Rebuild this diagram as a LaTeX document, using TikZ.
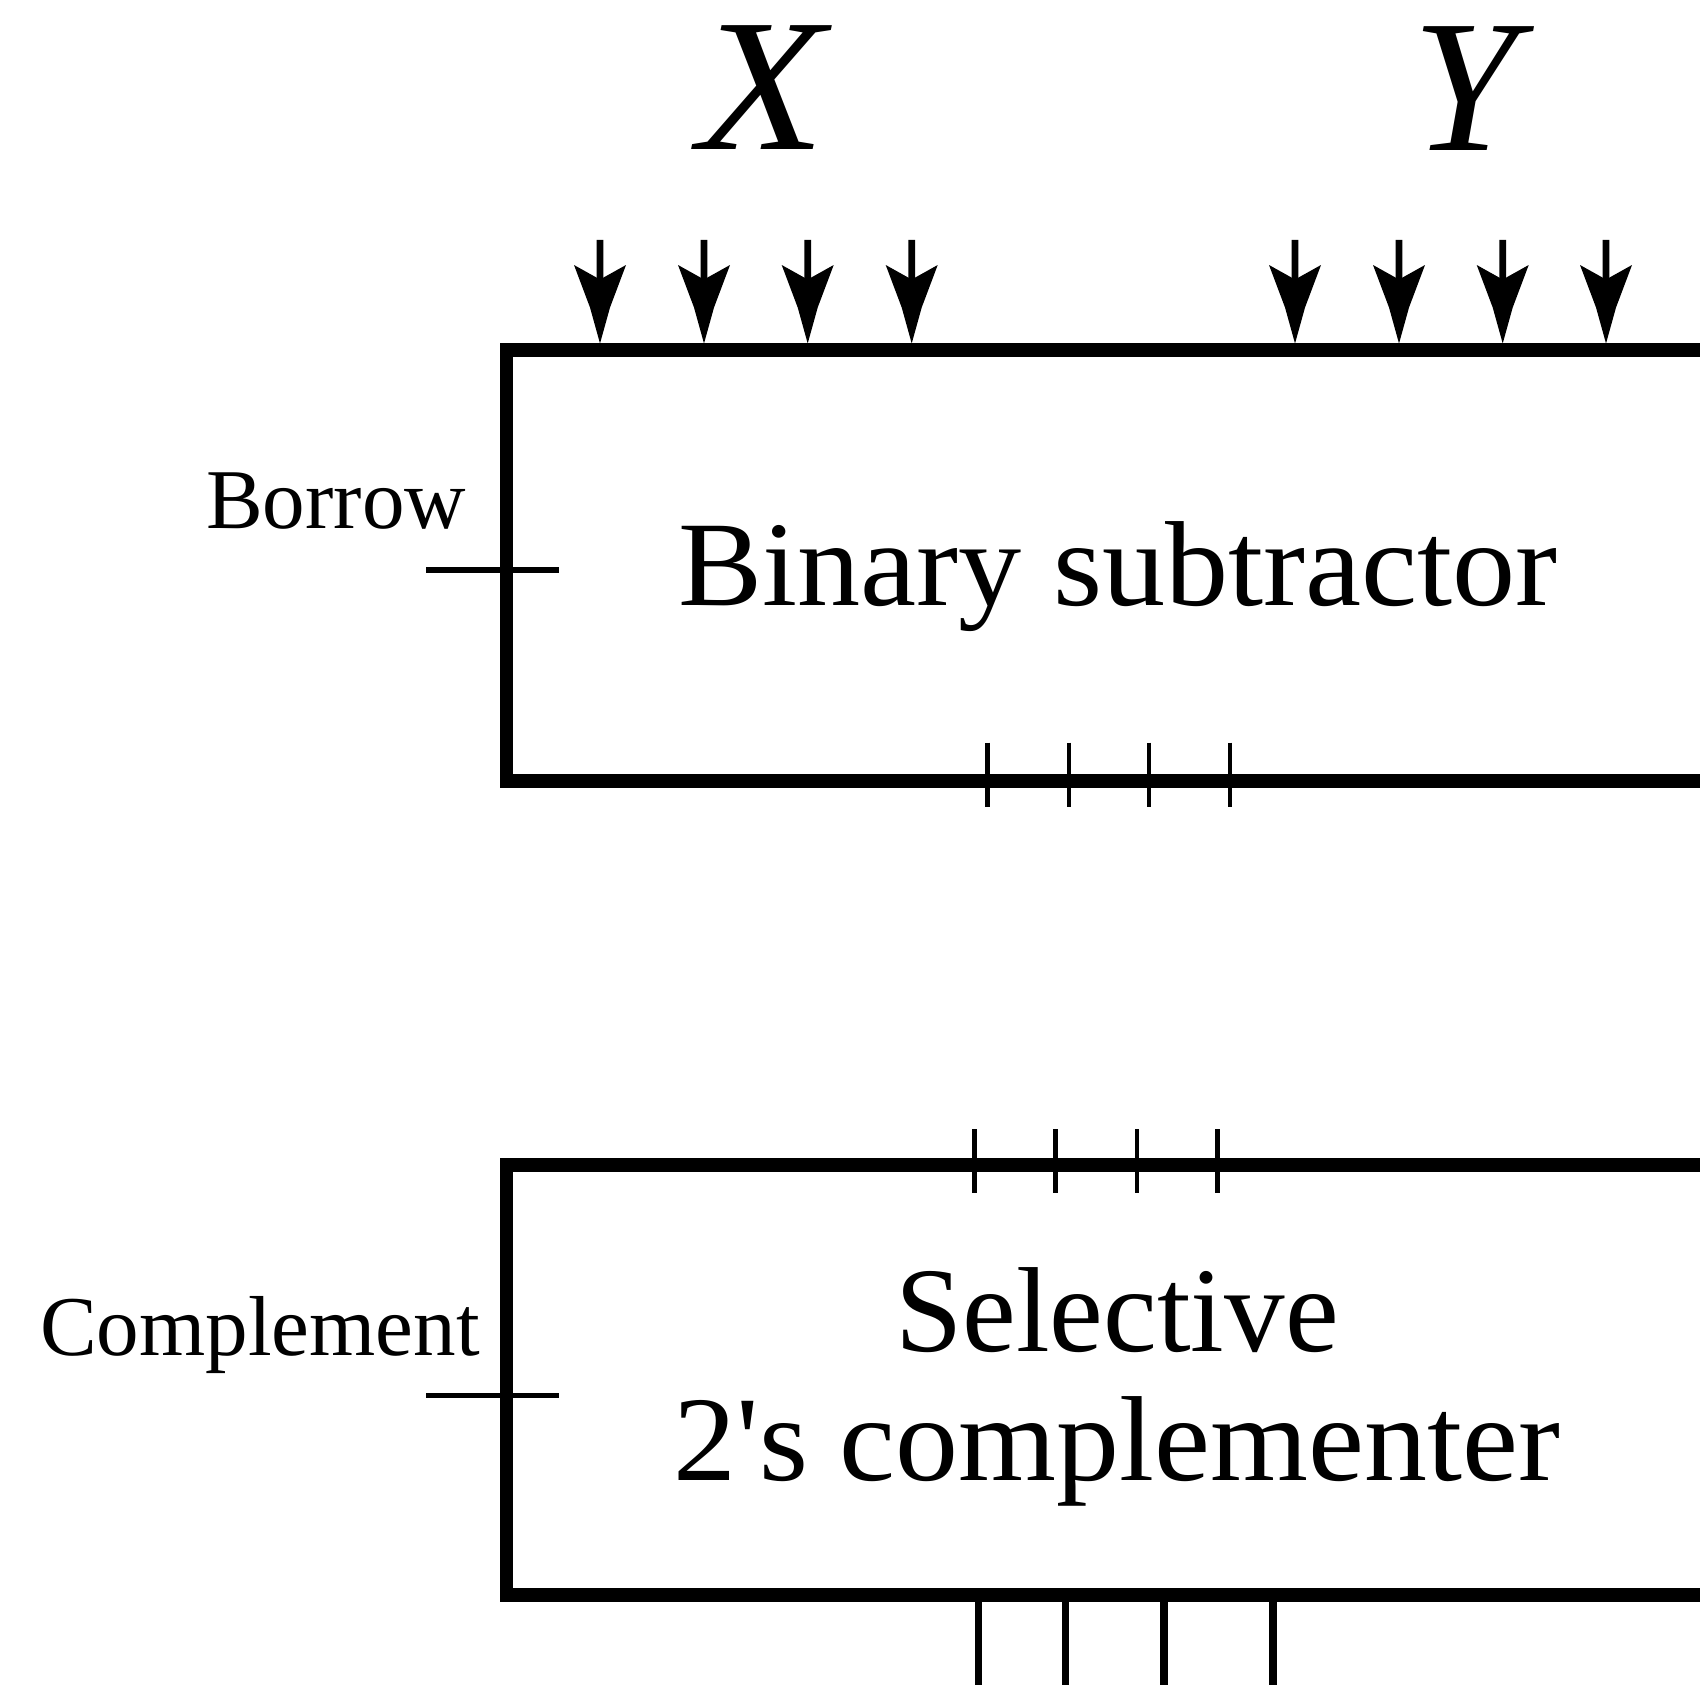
\documentclass[tikz,border=0pt]{standalone}
\usepackage{fontspec}
\usepackage{graphicx}
\setmainfont{Liberation Serif}[Ligatures=TeXOff]
\usetikzlibrary{calc}
\begin{document}
\begin{tikzpicture}[x=0.01cm,y=-0.01cm,
  blockbox/.style={draw, line width=1.35mm, inner sep=0pt, outer sep=0pt,
    minimum width=12.2cm, minimum height=4.31cm},
  sigline/.style={line width=0.53mm},
  tickline/.style={line width=0.46mm},
  outline/.style={line width=0.75mm},
  shaftline/.style={line width=0.67mm},
  headfill/.style={fill=black},
  labsmall/.style={inner sep=0pt, font=\fontsize{24.2pt}{29pt}\selectfont},
  labbig/.style={inner sep=0pt, font=\fontsize{34.4pt}{41pt}\selectfont},
  labvar/.style={inner sep=0pt, font=\fontsize{53.8pt}{60pt}\selectfont\itshape}]
\useasboundingbox (0,0) rectangle (1700,1685);
\clip (0,0) rectangle (1700,1685);

% boxes
\node[blockbox] (sub) at (1117,565.5) {};
\node[blockbox, minimum height=4.297cm] (cmp) at (1117,1380.2) {};

% box texts
\node[labbig, anchor=base] (subtxt) at (1117.8,605) {\scalebox{1.043}[1]{Binary subtractor}};
\node[labbig, anchor=base] (seltxt) at (1117,1351.7) {Selective};
\node[labbig, anchor=base] (twotxt) at (1116.7,1480.7) {\scalebox{1.041}[1]{2's complementer}};

% input labels
\node[labvar, anchor=base] (xlab) at (762,149.3) {\scalebox{1.1}[1]{X}};
\node[labvar, anchor=base] (ylab) at (1464.6,150) {Y};

% side labels
\node[labsmall, anchor=base west] (borrow) at (205.3,528.3) {Borrow};
\node[labsmall, anchor=base west] (compl) at (39.3,1355) {Complement};

% side signal lines
\coordinate (bw) at (426,570);
\coordinate (be) at (559,570);
\draw[sigline] (bw) -- (be);
\coordinate (cw) at (426,1395.5);
\coordinate (ce) at (559,1395.5);
\draw[sigline] (cw) -- (ce);

% input arrows
\foreach \i/\x in {1/600,2/704,3/807.7,4/911.7,5/1295,6/1399,7/1502.7,8/1606}{
  \coordinate (s\i) at (\x,240);
  \coordinate (e\i) at (\x,343.5);
  \draw[shaftline] (s\i) -- ($(s\i)!0.6!(e\i)$);
  \fill[headfill] (e\i) -- ++(10,-36) -- ++(16,-42.5) -- ++(-26,14.5)
     -- ++(-26,-14.5) -- ++(16,42.5) -- cycle;
}

% ticks on subtractor output
\foreach \x in {987.3,1068.8,1149.1,1230}{
  \draw[tickline] (\x,742.7) -- (\x,806.7);
}
% ticks on complementer input
\foreach \x in {974.6,1055.6,1137,1217.5}{
  \draw[tickline] (\x,1129) -- (\x,1193);
}
% complementer outputs
\foreach \i/\x in {1/978.6,2/1065.6,3/1164,4/1273}{
  \coordinate (o\i) at (\x,1601);
  \coordinate (f\i) at (\x,1700);
  \draw[outline] (o\i) -- (f\i);
}
\end{tikzpicture}
\end{document}
